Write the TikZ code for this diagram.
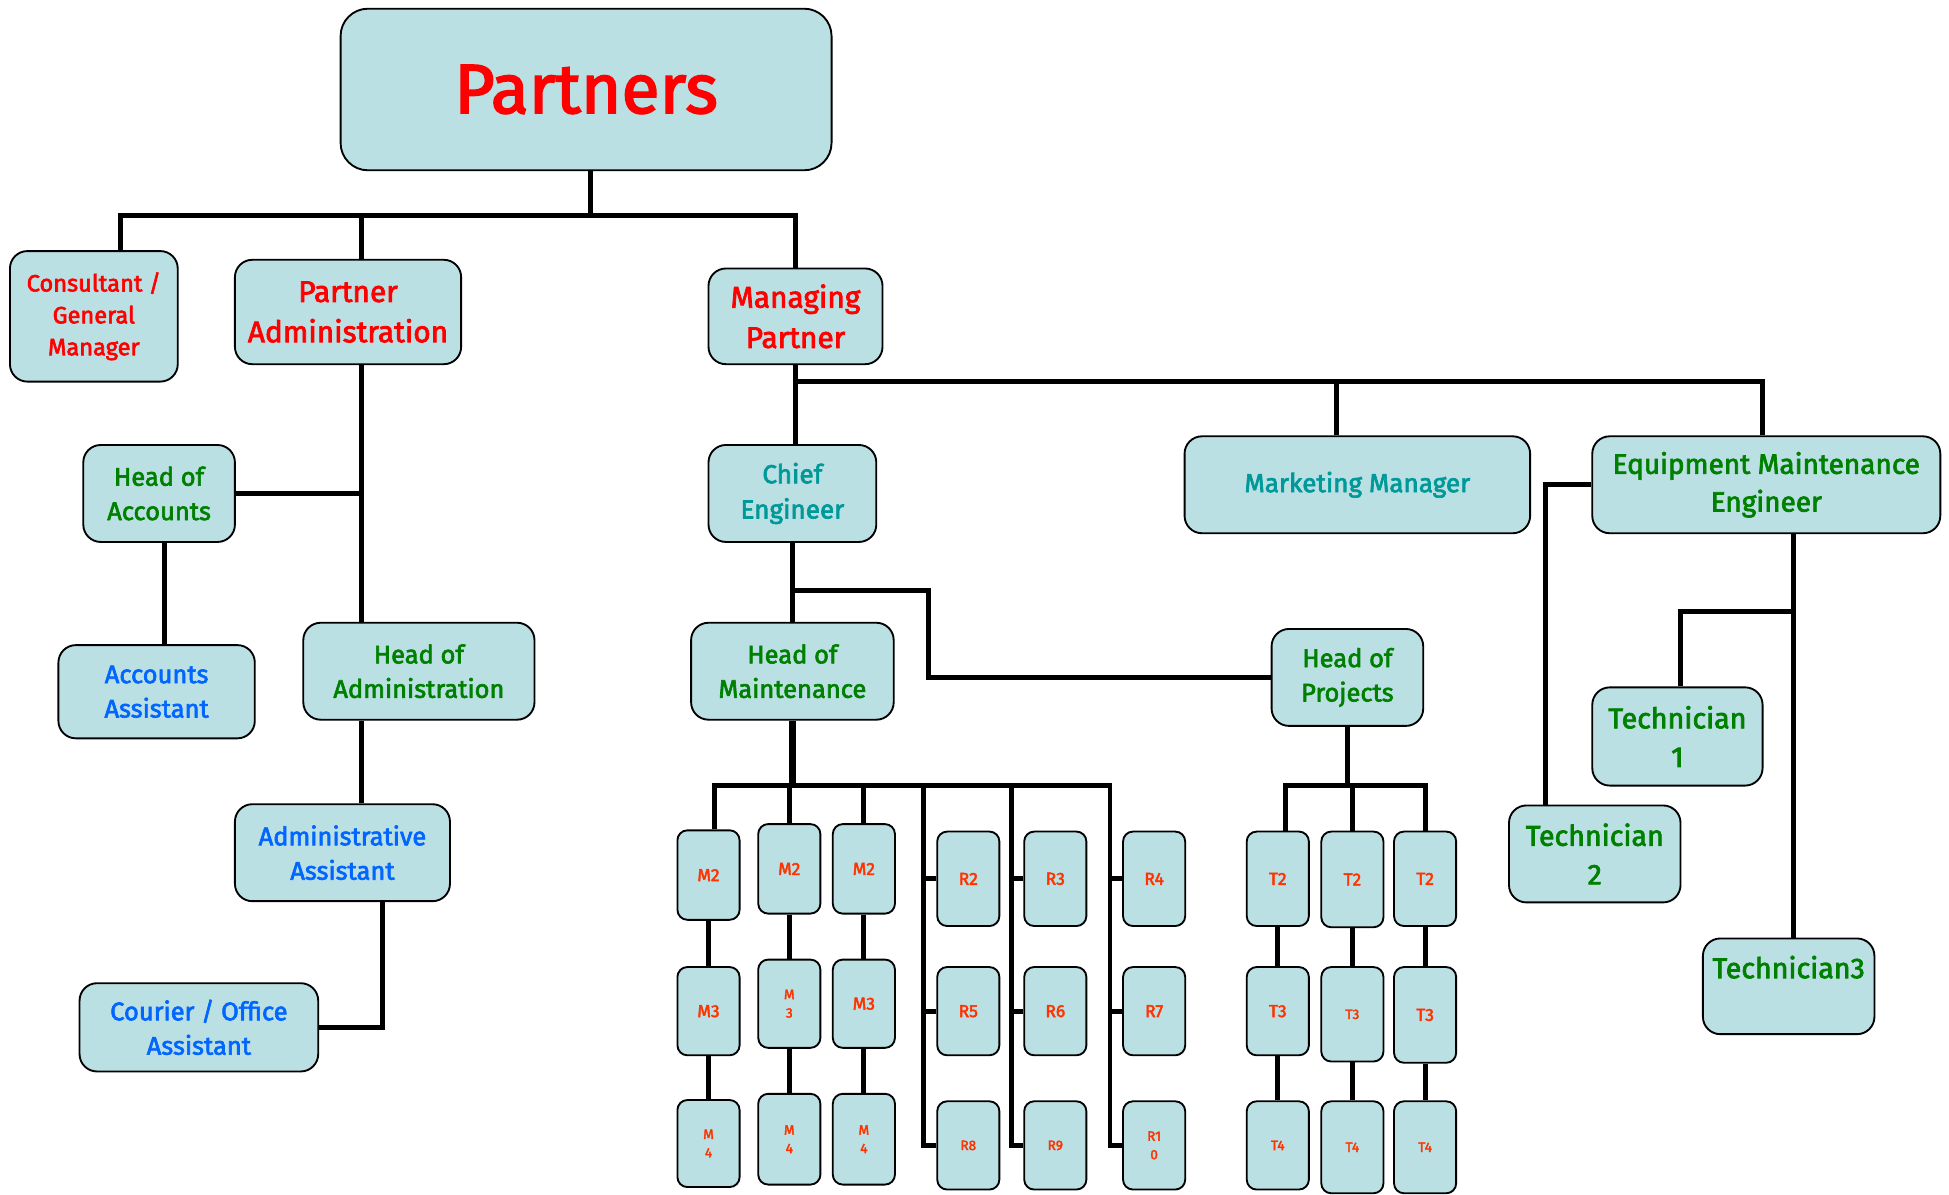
\documentclass[tikz,border=0pt]{standalone}
\usepackage{fontspec}
\setmainfont{Fira Sans}[FakeBold = 2.5]

\definecolor{boxfill}{RGB}{187,224,227}
\definecolor{cred}{RGB}{255,0,0}
\definecolor{cgreen}{RGB}{0,128,0}
\definecolor{cblue}{RGB}{0,102,255}
\definecolor{cteal}{RGB}{0,153,153}
\definecolor{corange}{RGB}{255,51,0}

\newcommand\fsz[1]{\fontsize{#1}{\fpeval{1.35*#1}}\selectfont}

\tikzset{
    box/.style = {draw, line width = 1.5pt, fill = boxfill, rounded corners = 14pt,
                  align = center, inner sep = 0pt},
    small/.style = {box, rounded corners = 8pt, minimum width = 50pt},
    conn/.style = {line width = 4pt},
    redlvl/.style = {text = cred, font = \fsz{24}},
    greenlvl/.style = {text = cgreen, font = \fsz{20.5}},
    bluelvl/.style = {text = cblue, font = \fsz{20.5}},
    teallvl/.style = {text = cteal, font = \fsz{21}},
    techlvl/.style = {text = cgreen, font = \fsz{23}},
    lbl/.style = {text = corange, font = \fsz{14}},
    lbls/.style = {text = corange, font = \fsz{11}}
}

\begin{document}
\begin{tikzpicture}[x = 1pt, y = -1pt]
    \useasboundingbox (0,0) rectangle (1568,960.6);

    % top levels
    \node[box, rounded corners = 22pt, minimum width = 395pt, minimum height = 130pt,
          text = cred, font = \fsz{56}] (partners) at (471.5,72) {Partners};
    \node[box, minimum width = 135pt, minimum height = 105pt, redlvl, font = \fsz{19}]
        (consult) at (75.5,254.5) {Consultant /\\General\\Manager};
    \node[box, minimum width = 182pt, minimum height = 84pt, redlvl]
        (padmin) at (280,251) {Partner\\Administration};
    \node[box, minimum width = 140pt, minimum height = 77pt, redlvl]
        (mpartner) at (640,254.5) {Managing\\Partner};

    % administration side
    \node[box, minimum width = 122pt, minimum height = 78pt, greenlvl]
        (hacc) at (128,397) {Head of\\Accounts};
    \node[box, minimum width = 158pt, minimum height = 75pt, bluelvl]
        (aass) at (126,556.5) {Accounts\\Assistant};
    \node[box, minimum width = 186pt, minimum height = 78pt, greenlvl]
        (hadmin) at (337,540) {Head of\\Administration};
    \node[box, minimum width = 173pt, minimum height = 78pt, bluelvl]
        (admass) at (275.5,686) {Administrative\\Assistant};
    \node[box, minimum width = 192pt, minimum height = 71pt, bluelvl]
        (courier) at (160,826.5) {Courier / Office\\Assistant};

    % engineering side
    \node[box, minimum width = 135pt, minimum height = 78pt, teallvl]
        (chief) at (637.5,397) {Chief\\Engineer};
    \node[box, minimum width = 278pt, minimum height = 78pt, teallvl]
        (mkt) at (1092,390) {Marketing Manager};
    \node[box, minimum width = 280pt, minimum height = 78pt, greenlvl, font = \fsz{22.5}]
        (eme) at (1421,390) {Equipment Maintenance\\Engineer};
    \node[box, minimum width = 163pt, minimum height = 78pt, greenlvl]
        (hmaint) at (637.5,540) {Head of\\Maintenance};
    \node[box, minimum width = 122pt, minimum height = 78pt, greenlvl]
        (hproj) at (1084,545) {Head of\\Projects};
    \node[box, minimum width = 137pt, minimum height = 79pt, techlvl]
        (tech1) at (1349.5,592.5) {Technician\\1};
    \node[box, minimum width = 138pt, minimum height = 78pt, techlvl]
        (tech2) at (1283,687) {Technician\\2};
    \node[box, minimum width = 138pt, minimum height = 77pt, techlvl]
        (tech3) at (1439,793.5) {Technician3\\~};

    % maintenance and project teams
    \foreach \n/\x/\y/\h/\t/\s in {
        m11/570/704/72/M2/lbl, m21/570/813.5/71/M3/lbl, m31/570/920/70/{M\\4}/lbls,
        m12/635/699/72/M2/lbl, m22/635/807.5/71/{M\\3}/lbls, m32/635/916.5/73/{M\\4}/lbls,
        m13/695/699/72/M2/lbl, m23/695/807.5/71/M3/lbl, m33/695/916.5/73/{M\\4}/lbls,
        r11/779/707/76/R2/lbl, r21/779/813.5/71/R5/lbl, r31/779/921.5/71/R8/lbls,
        r12/849/707/76/R3/lbl, r22/849/813.5/71/R6/lbl, r32/849/921.5/71/R9/lbls,
        r13/928.5/707/76/R4/lbl, r23/928.5/813.5/71/R7/lbl, r33/928.5/921.5/71/{R1\\0}/lbls,
        t11/1028/707/76/T2/lbl, t21/1028/813.5/71/T3/lbl, t31/1028/921.5/71/T4/lbls,
        t12/1088/707.5/77/T2/lbl, t22/1088/816/76/T3/lbls, t32/1088/923/74/T4/lbls,
        t13/1146.5/707/76/T2/lbl, t23/1146.5/816.5/77/T3/lbl, t33/1146.5/923/74/T4/lbls}
        \node[small, minimum height = \h pt, \s] (\n) at (\x,\y) {\t};

    % connectors, upper part
    \coordinate (tb) at (475,173);
    \draw[conn] (partners.south -| tb) -- (tb);
    \draw[conn] ([xshift = 21.5pt]consult.north) |- (tb) -| (mpartner.north);
    \draw[conn] ([xshift = 11pt]padmin.north) -- ([xshift = 11pt]padmin.north |- tb);

    \coordinate (pa) at ([xshift = 11pt]padmin.south);
    \draw[conn] (pa) -- (pa |- hadmin.north);
    \draw[conn] (hacc.east) -- (hacc.east -| pa);
    \draw[conn] ([xshift = 4pt]hacc.south) -- ([xshift = 4pt]hacc.south |- aass.north);
    \draw[conn] ([xshift = -46pt]hadmin.south) -- ([xshift = -46pt]hadmin.south |- admass.north);
    \draw[conn] ([xshift = 32.5pt]admass.south) |- (courier.east);

    \coordinate (mb) at (640,307);
    \draw[conn] (mpartner.south) -- (mpartner.south |- chief.north);
    \draw[conn] (mb) -| ([xshift = -3pt]eme.north);
    \draw[conn] ([xshift = -17pt]mkt.north) -- ([xshift = -17pt]mkt.north |- mb);

    \coordinate (cp) at (747,475);
    \draw[conn] (chief.south) -- (hmaint.north);
    \draw[conn] (chief.south |- cp) -- (cp) |- (hproj.west);

    \coordinate (e1) at ([xshift = 22pt]eme.south);
    \coordinate (e2) at (1443,492);
    \draw[conn] (e1) -- (e1 |- tech3.north);
    \draw[conn] (e2) -| ([xshift = 2.5pt]tech1.north);
    \draw[conn] (eme.west) -| ([xshift = -40pt]tech2.north);

    % connectors, teams
    \coordinate (hb) at (638,632);
    \coordinate (rv1) at (743,632);
    \coordinate (rv2) at (814,632);
    \coordinate (rv3) at (893,632);
    \draw[conn, line width = 6pt] (hmaint.south) -- (hmaint.south |- hb);
    \draw[conn] ([xshift = 5pt]m11.north) |- (rv3) |- (r33.west);
    \draw[conn] (rv1) |- (r31.west);
    \draw[conn] (rv2) |- (r32.west);
    \foreach \c in {2, 3}
        \draw[conn] (m1\c.north) -- (m1\c.north |- hb);
    \foreach \r in {1, 2}
        \foreach \c in {1, 2, 3}
            \draw[conn] (r\r\c.west) -- (r\r\c.west -| rv\c);

    \coordinate (tp) at (hproj.south |- hb);
    \draw[conn] (hproj.south) -- (tp);
    \draw[conn] ([xshift = 6pt]t11.north) |- (tp) -| (t13.north);
    \draw[conn] (t12.north) -- (t12.north |- tp);

    \foreach \c in {1, 2, 3} {
        \draw[conn] (m1\c.south) -- (m2\c.north);
        \draw[conn] (m2\c.south) -- (m3\c.north);
        \draw[conn] (t1\c.south) -- (t2\c.north);
        \draw[conn] (t2\c.south) -- (t3\c.north);
    }
\end{tikzpicture}
\end{document}
